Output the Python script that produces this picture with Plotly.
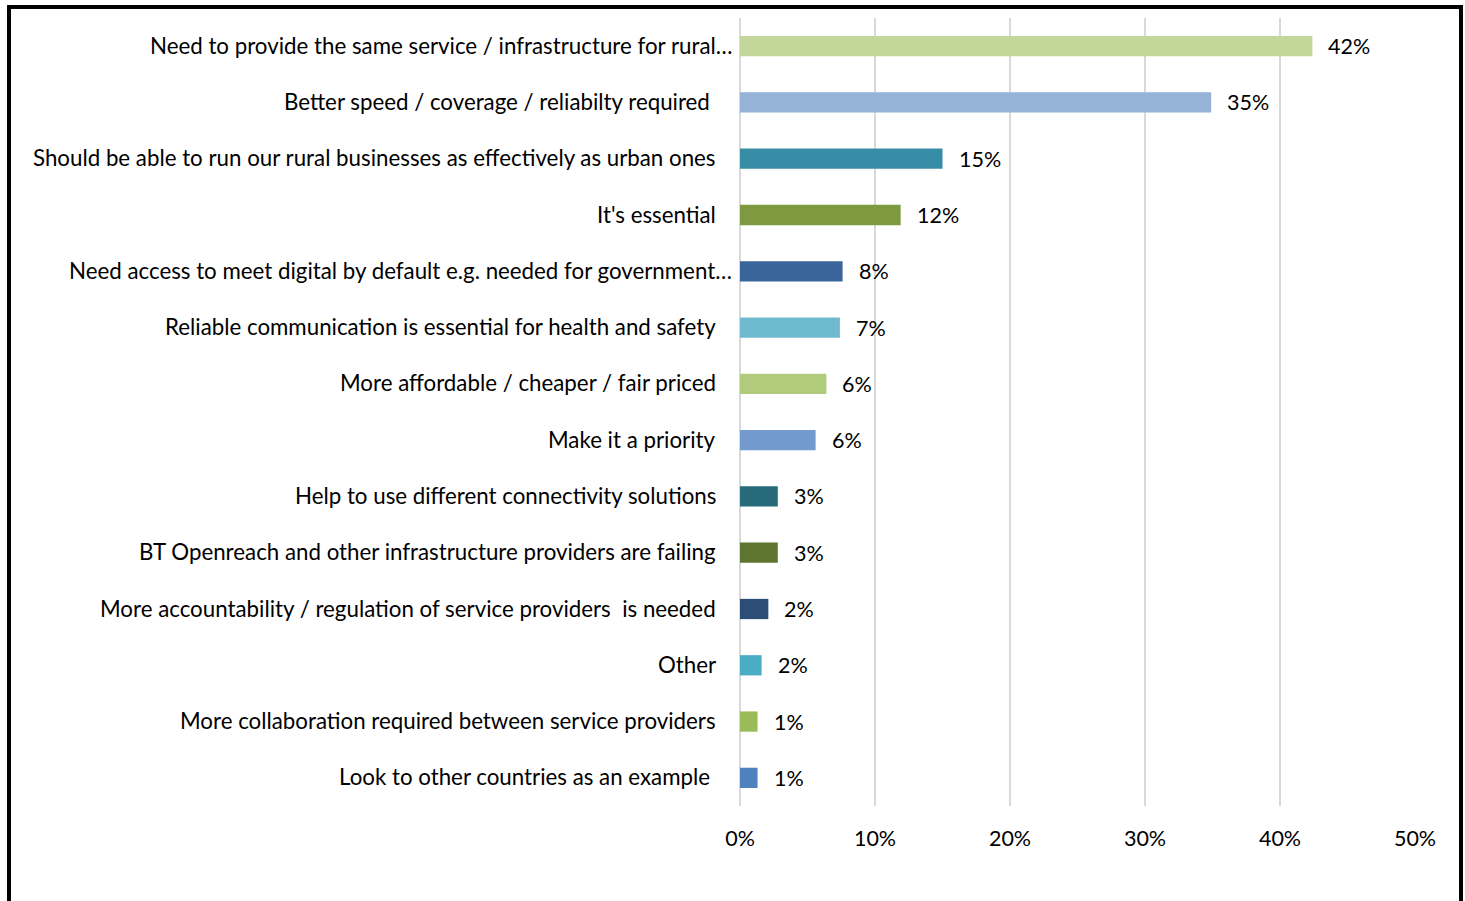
import plotly.graph_objects as go

# Survey responses, top to bottom as drawn
categories = [
    "Need to provide the same service / infrastructure for rural…",
    "Better speed / coverage / reliabilty required ",
    "Should be able to run our rural businesses as effectively as urban ones",
    "It's essential",
    "Need access to meet digital by default e.g. needed for government…",
    "Reliable communication is essential for health and safety",
    "More affordable / cheaper / fair priced",
    "Make it a priority",
    "Help to use different connectivity solutions",
    "BT Openreach and other infrastructure providers are failing",
    "More accountability / regulation of service providers  is needed",
    "Other",
    "More collaboration required between service providers",
    "Look to other countries as an example ",
]
shares = [0.424, 0.349, 0.150, 0.119, 0.076, 0.074, 0.064, 0.056,
          0.028, 0.028, 0.021, 0.016, 0.013, 0.013]
bar_colors = [
    "#C4D79B", "#95B3D7", "#368DA5", "#7E9A41", "#3A659B", "#6EBBD0", "#AFCB7B",
    "#729ACC", "#276B7B", "#5E752F", "#2C4D75", "#4BACC6", "#9BBB59", "#4F81BD",
]
x_ticks = [0, 0.1, 0.2, 0.3, 0.4, 0.5]
x_tick_text = ["0%", "10%", "20%", "30%", "40%", "50%"]

FONT = "Lato"

fig = go.Figure(
    go.Bar(
        x=shares,
        y=categories,
        orientation="h",
        marker=dict(color=bar_colors, line=dict(width=0)),
        width=0.36,
        hoverinfo="skip",
    )
)

# Category labels left of the axis; truncated labels sit closer to it,
# labels with a trailing space sit slightly further away
for cat in categories:
    if cat.endswith("…"):
        shift = -6
    elif cat.endswith(" "):
        shift = -28
    else:
        shift = -22
    fig.add_annotation(
        x=0, y=cat, xref="x", yref="y",
        text=cat.rstrip(), showarrow=False,
        xanchor="right", yanchor="middle", xshift=shift, yshift=1,
        font=dict(family=FONT, size=22.3, color="#000000"),
    )

# Value labels to the right of each bar
for cat, val in zip(categories, shares):
    fig.add_annotation(
        x=val, y=cat, xref="x", yref="y",
        text=f"{val:.0%}", showarrow=False,
        xanchor="left", yanchor="middle", xshift=14,
        font=dict(family=FONT, size=21.5, color="#000000"),
    )

# Frame around the whole chart
fig.add_shape(
    type="rect", xref="paper", yref="paper",
    x0=(9 - 740) / 675, x1=(1461 - 740) / 675,
    y0=(806 - 910) / 788, y1=(806 - 7) / 788,
    line=dict(color="#000000", width=4), fillcolor="rgba(0,0,0,0)",
    layer="above",
)

fig.update_layout(
    width=1465, height=901,
    margin=dict(l=740, r=50, t=18, b=95),
    paper_bgcolor="#FFFFFF", plot_bgcolor="#FFFFFF",
    showlegend=False,
    font=dict(family=FONT, size=20, color="#000000"),
)
fig.update_xaxes(
    range=[0, 0.5], tickvals=x_ticks, ticktext=x_tick_text,
    showgrid=True, gridcolor="#D9D9D9", gridwidth=2,
    zeroline=True, zerolinecolor="#D9D9D9", zerolinewidth=2,
    showline=False, ticks="", ticklabelstandoff=17,
    tickfont=dict(family=FONT, size=21.5, color="#000000"),
    fixedrange=True,
)
fig.update_yaxes(
    categoryorder="array", categoryarray=categories, autorange="reversed",
    showgrid=False, zeroline=False, showline=False, ticks="",
    showticklabels=False,
    fixedrange=True,
)

fig.write_html("out.html")
